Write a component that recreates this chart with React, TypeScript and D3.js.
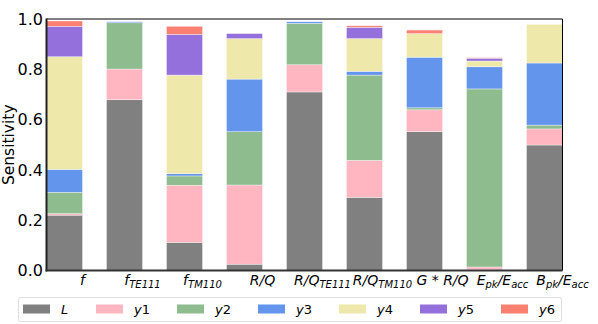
import React from 'react';
import * as d3 from 'd3';

// categories: [main, subscript, tail-main, tail-sub]
const categories = [
  ['f', ''],
  ['f', 'TE111'],
  ['f', 'TM110'],
  ['R/Q', ''],
  ['R/Q', 'TE111'],
  ['R/Q', 'TM110'],
  ['G * R/Q', ''],
  ['E', 'pk', '/E', 'acc'],
  ['B', 'pk', '/E', 'acc'],
];

const seriesNames = ['L', 'y1', 'y2', 'y3', 'y4', 'y5', 'y6'];
const seriesColors = ['#808080', '#FFB6C1', '#8FBC8F', '#6495ED', '#EEE8AA', '#9370DB', '#FA8072'];

const L = [0.22, 0.679, 0.112, 0.025, 0.71, 0.291, 0.552, 0.003, 0.499];
const y1 = [0.006, 0.122, 0.227, 0.315, 0.108, 0.147, 0.087, 0.011, 0.064];
const y2 = [0.085, 0.184, 0.037, 0.212, 0.165, 0.339, 0.008, 0.708, 0.015];
const y3 = [0.091, 0.004, 0.009, 0.209, 0.006, 0.015, 0.201, 0.088, 0.247];
const y4 = [0.448, 0, 0.392, 0.161, 0, 0.13, 0.094, 0.023, 0.154];
const y5 = [0.121, 0, 0.162, 0.02, 0, 0.045, 0, 0.011, 0];
const y6 = [0.021, 0, 0.032, 0, 0, 0.006, 0.014, 0.002, 0];

const yTicks = [0, 0.2, 0.4, 0.6, 0.8, 1.0];

const W = 598;
const H = 324;
const left = 46.5;
const right = 562.5;
const top = 19;
const bottom = 270.5;
const barW = 0.6;

const font = 'DejaVu Sans, sans-serif';

export default function App() {
  const series = [L, y1, y2, y3, y4, y5, y6];
  const rows = categories.map((_, i) => {
    const r: Record<string, number> = {};
    seriesNames.forEach((s, k) => (r[s] = series[k][i]));
    return r;
  });
  const stacked = d3.stack<Record<string, number>>().keys(seriesNames)(rows);

  const x = d3.scaleLinear().domain([0, categories.length - 1 + barW]).range([left, right]);
  const y = d3.scaleLinear().domain([0, 1]).range([bottom, top]);

  // legend entry positions: patch + gap + label width + column spacing
  const legendX: number[] = [];
  let cx = 23;
  seriesNames.forEach((s) => {
    legendX.push(cx);
    cx += 38 + (s.length > 1 ? 16 : 8) + 27;
  });

  return (
    <svg width={W} height={H} style={{ position: 'absolute', left: 0, top: 0 }} fontFamily={font}>
      {stacked.map((layer, k) => (
        <g key={layer.key} fill={seriesColors[k]}>
          {layer.map((d, i) =>
            d[1] - d[0] > 0 ? (
              <rect
                key={i}
                x={x(i)}
                width={x(i + barW) - x(i)}
                y={y(d[1])}
                height={y(d[0]) - y(d[1])}
                stroke="#fff"
                strokeOpacity={0.6}
                strokeWidth={0.6}
              />
            ) : null
          )}
        </g>
      ))}

      {/* spines */}
      <line x1={left} x2={right} y1={top} y2={top} stroke="#000" strokeWidth={1} />
      <line x1={right} x2={right} y1={top} y2={bottom} stroke="#000" strokeWidth={1} />
      <line x1={left} x2={left} y1={top - 0.5} y2={bottom + 1} stroke="#222" strokeWidth={2} />
      <line x1={left - 1} x2={right} y1={bottom} y2={bottom} stroke="#333" strokeWidth={2} />

      {/* y ticks */}
      {yTicks.map((t) => (
        <text key={t} x={43} y={y(t)} dy="0.36em" textAnchor="end" fontSize={16} fill="#000">
          {d3.format('.1f')(t)}
        </text>
      ))}
      <text
        transform={`translate(14,${(top + bottom) / 2}) rotate(-90)`}
        textAnchor="middle"
        fontSize={15.5}
        fill="#000"
      >
        Sensitivity
      </text>

      {/* x tick labels */}
      {categories.map((c, i) => (
        <text
          key={i}
          x={x(i + barW)}
          y={285}
          textAnchor="middle"
          fontSize={14}
          fontStyle="italic"
          fill="#000"
        >
          <tspan>{c[0]}</tspan>
          {c[1] ? (
            <tspan fontSize={10} dy={3}>
              {c[1]}
            </tspan>
          ) : null}
          {c[2] ? (
            <tspan fontSize={14} dy={-3}>
              {c[2]}
            </tspan>
          ) : null}
          {c[3] ? (
            <tspan fontSize={10} dy={3}>
              {c[3]}
            </tspan>
          ) : null}
        </text>
      ))}

      {/* legend */}
      <rect x={18.5} y={297.5} width={543} height={24} rx={2} fill="#fff" stroke="#ddd" strokeWidth={1} />
      {seriesNames.map((s, k) => {
        const lx = legendX[k];
        return (
          <g key={s}>
            <rect x={lx} y={304.5} width={27} height={9} fill={seriesColors[k]} />
            <text x={lx + 38} y={314} fontSize={13} fill="#000">
              <tspan fontStyle="italic">{s[0]}</tspan>
              {s.length > 1 ? <tspan>{s.slice(1)}</tspan> : null}
            </text>
          </g>
        );
      })}
    </svg>
  );
}
